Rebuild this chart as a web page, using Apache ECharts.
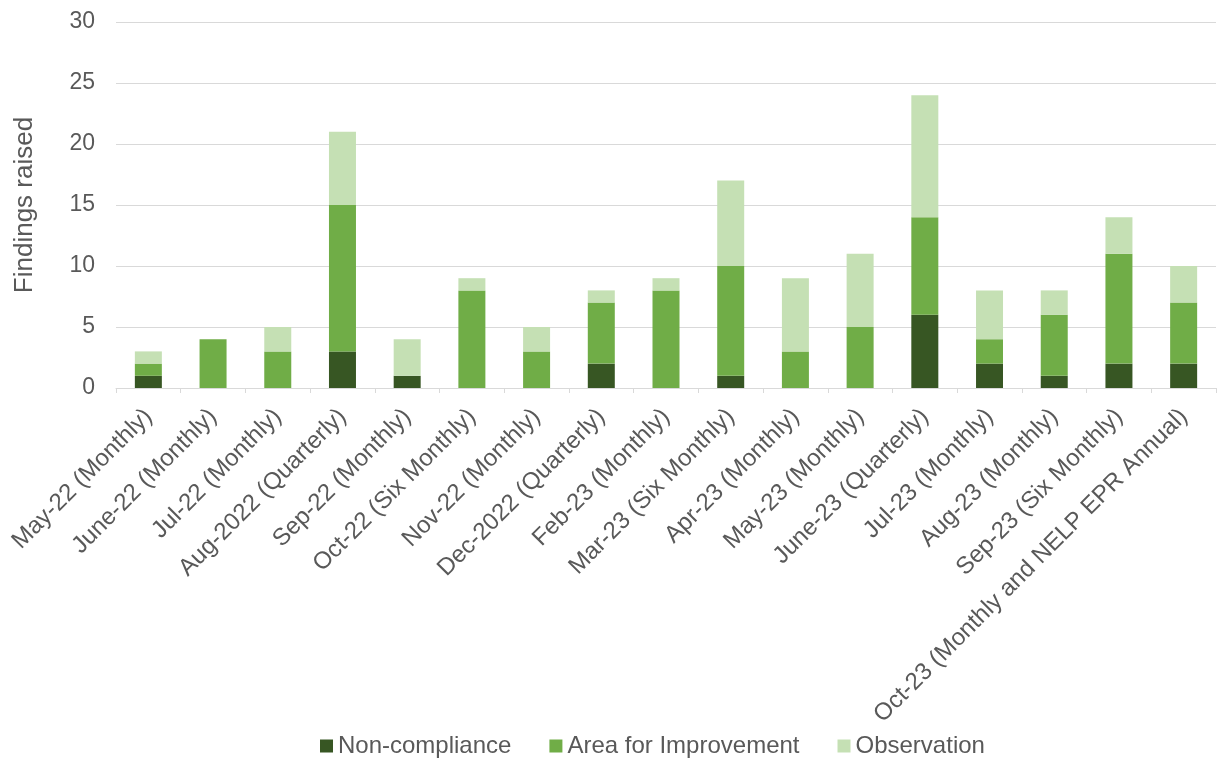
<!DOCTYPE html>
<html><head><meta charset="utf-8">
<script src="https://cdn.jsdelivr.net/npm/echarts@6/dist/echarts.min.js"></script>
<style>html,body{margin:0;padding:0;background:#fff}#c{width:1226px;height:758px}</style>
</head><body><div id="c"></div>
<script>
var categories = ["May-22 (Monthly)","June-22 (Monthly)","Jul-22 (Monthly)","Aug-2022 (Quarterly)","Sep-22 (Monthly)","Oct-22 (Six Monthly)","Nov-22 (Monthly)","Dec-2022 (Quarterly)","Feb-23 (Monthly)","Mar-23 (Six Monthly)","Apr-23 (Monthly)","May-23 (Monthly)","June-23 (Quarterly)","Jul-23 (Monthly)","Aug-23 (Monthly)","Sep-23 (Six Monthly)","Oct-23 (Monthly and NELP EPR Annual)"];
var nonCompliance = [1,0,0,3,1,0,0,2,0,1,0,0,6,2,1,2,2];
var areaForImprovement = [1,4,3,12,0,8,3,5,8,9,3,5,8,2,5,9,5];
var observation = [1,0,2,6,3,1,2,1,1,7,6,6,10,4,2,3,3];
var yTicks = [0,5,10,15,20,25,30];

var font = "Liberation Sans, Arial, sans-serif";
var chart = echarts.init(document.getElementById('c'));
function s(name, data, color){
  return {name:name,type:'bar',stack:'t',data:data,barWidth:27,itemStyle:{color:color},emphasis:{disabled:true}};
}
chart.setOption({
  animation:false,
  textStyle:{fontFamily:font},
  grid:{left:116,right:10,top:22,bottom:370},
  legend:{bottom:-5,left:315,itemWidth:13,itemHeight:13,itemGap:38,icon:'rect',
    textStyle:{fontSize:24,color:'#595959',fontFamily:font,padding:[0,0,0,0]},
    data:['Non-compliance','Area for Improvement','Observation']},
  xAxis:{type:'category',data:categories,
    axisLine:{lineStyle:{color:'#D9D9D9'}},
    axisTick:{show:true,lineStyle:{color:'#D9D9D9'},length:5},
    axisLabel:{rotate:45,interval:0,fontSize:24,color:'#595959',fontFamily:font,margin:25}},
  yAxis:{type:'value',min:yTicks[0],max:yTicks[yTicks.length-1],interval:5,
    name:'Findings raised',nameLocation:'middle',nameGap:78,nameRotate:90,
    nameTextStyle:{fontSize:26,color:'#595959',fontFamily:font},
    axisLine:{show:false},axisTick:{show:false},
    axisLabel:{fontSize:23,color:'#595959',fontFamily:font,margin:21},
    splitLine:{lineStyle:{color:'#D9D9D9'}}},
  series:[s('Non-compliance',nonCompliance,'#375623'),s('Area for Improvement',areaForImprovement,'#70AD47'),s('Observation',observation,'#C5E0B4')]
});
</script></body></html>
